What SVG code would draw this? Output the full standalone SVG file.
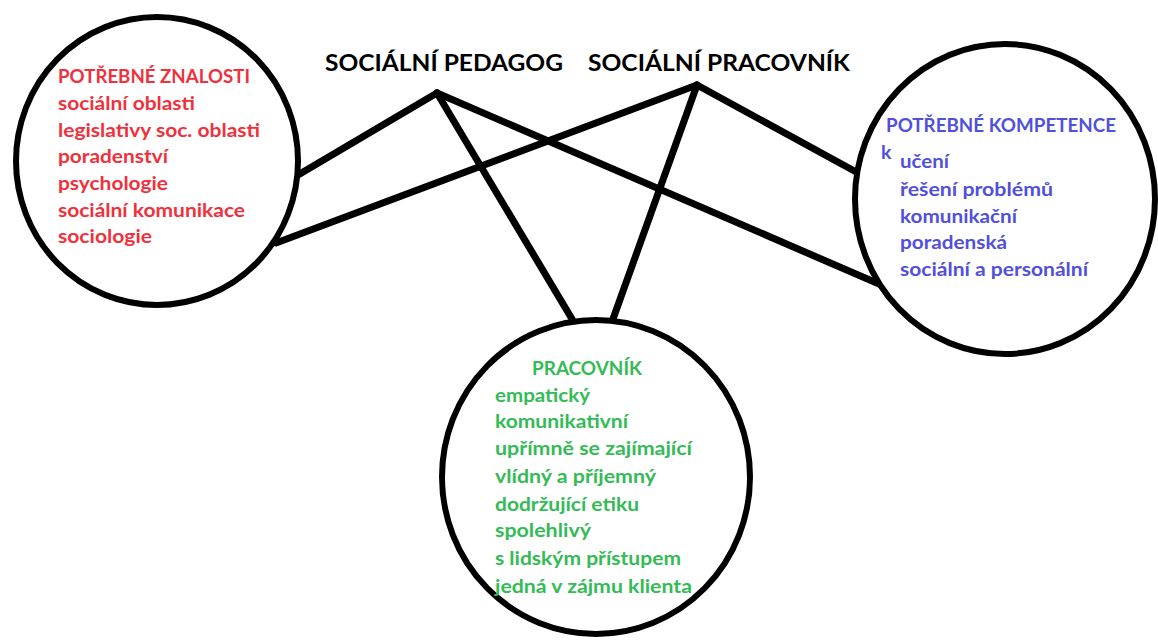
<svg xmlns="http://www.w3.org/2000/svg" width="1158" height="641" viewBox="0 0 1158 641">
<style>
.c{fill:#fff;stroke:#000;stroke-width:6}
.l{stroke:#000;stroke-width:7;stroke-linecap:round;fill:none}
text{font-family:Lato,"Open Sans","Liberation Sans",sans-serif;font-weight:bold;font-size:19.5px}
.t{font-size:23px;fill:#000}
.r{fill:#f2303c}
.b{fill:#5050dc}
.g{fill:#33bb55}
</style>
<rect width="1158" height="641" fill="#fff"/>
<g id="connectors">
<line class="l" x1="437" y1="93" x2="298" y2="175"/>
<line class="l" x1="437" y1="93" x2="572" y2="319"/>
<line class="l" x1="437" y1="93" x2="886" y2="287"/>
<line class="l" x1="697" y1="85" x2="276" y2="243"/>
<line class="l" x1="697" y1="85" x2="613" y2="319"/>
<line class="l" x1="697" y1="85" x2="858" y2="173"/>
</g>
<g id="title-pedagog"><text class="t" x="325" y="71" textLength="238" lengthAdjust="spacingAndGlyphs">SOCIÁLNÍ PEDAGOG</text></g>
<g id="title-pracovnik"><text class="t" x="588" y="71" textLength="262" lengthAdjust="spacingAndGlyphs">SOCIÁLNÍ PRACOVNÍK</text></g>
<g id="node-znalosti">
<ellipse class="c" cx="157" cy="161" rx="141" ry="144"/>
<text class="r" x="58" y="83" textLength="192" lengthAdjust="spacingAndGlyphs">POTŘEBNÉ ZNALOSTI</text>
<text class="r" x="58" y="110" textLength="137" lengthAdjust="spacingAndGlyphs">sociální oblasti</text>
<text class="r" x="58" y="137" textLength="202" lengthAdjust="spacingAndGlyphs">legislativy soc. oblasti</text>
<text class="r" x="58" y="163" textLength="110" lengthAdjust="spacingAndGlyphs">poradenství</text>
<text class="r" x="58" y="190" textLength="110" lengthAdjust="spacingAndGlyphs">psychologie</text>
<text class="r" x="58" y="217" textLength="187" lengthAdjust="spacingAndGlyphs">sociální komunikace</text>
<text class="r" x="58" y="243" textLength="94" lengthAdjust="spacingAndGlyphs">sociologie</text>
</g>
<g id="node-kompetence">
<ellipse class="c" cx="1005" cy="199" rx="150" ry="155"/>
<text class="b" x="886" y="132" textLength="230" lengthAdjust="spacingAndGlyphs">POTŘEBNÉ KOMPETENCE</text>
<text class="b" x="881" y="159">k</text>
<text class="b" x="900" y="168" textLength="49" lengthAdjust="spacingAndGlyphs">učení</text>
<text class="b" x="900" y="196" textLength="153" lengthAdjust="spacingAndGlyphs">řešení problémů</text>
<text class="b" x="900" y="223" textLength="117" lengthAdjust="spacingAndGlyphs">komunikační</text>
<text class="b" x="900" y="249" textLength="107" lengthAdjust="spacingAndGlyphs">poradenská</text>
<text class="b" x="900" y="276" textLength="188" lengthAdjust="spacingAndGlyphs">sociální a personální</text>
</g>
<g id="node-pracovnik">
<ellipse class="c" cx="596" cy="477" rx="154" ry="157"/>
<text class="g" x="532" y="375" textLength="110" lengthAdjust="spacingAndGlyphs">PRACOVNÍK</text>
<text class="g" x="495" y="402" textLength="95" lengthAdjust="spacingAndGlyphs">empatický</text>
<text class="g" x="495" y="428" textLength="133" lengthAdjust="spacingAndGlyphs">komunikativní</text>
<text class="g" x="495" y="455" textLength="197" lengthAdjust="spacingAndGlyphs">upřímně se zajímající</text>
<text class="g" x="495" y="483" textLength="161" lengthAdjust="spacingAndGlyphs">vlídný a příjemný</text>
<text class="g" x="495" y="511" textLength="144" lengthAdjust="spacingAndGlyphs">dodržující etiku</text>
<text class="g" x="495" y="537" textLength="96" lengthAdjust="spacingAndGlyphs">spolehlivý</text>
<text class="g" x="495" y="565" textLength="186" lengthAdjust="spacingAndGlyphs">s lidským přístupem</text>
<text class="g" x="495" y="593" textLength="197" lengthAdjust="spacingAndGlyphs">jedná v zájmu klienta</text>
</g>
</svg>
